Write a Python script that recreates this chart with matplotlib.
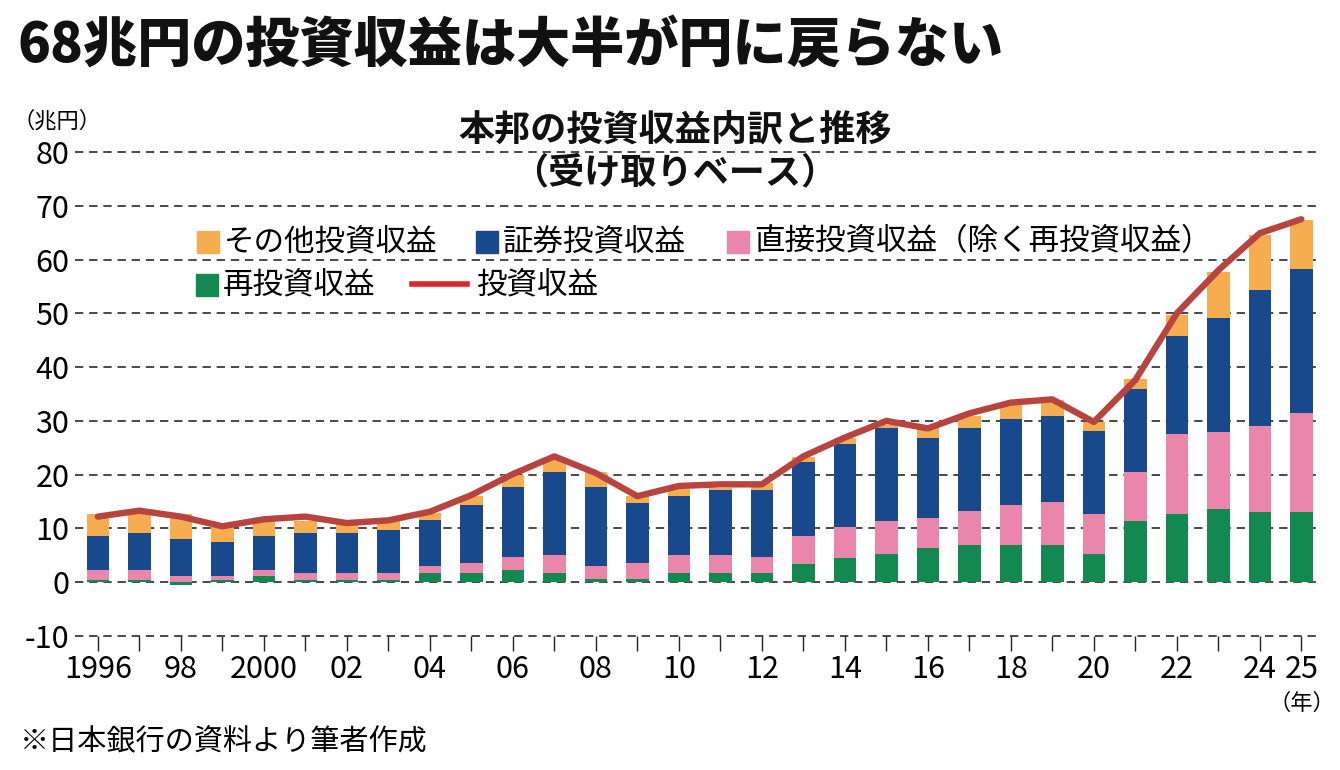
import numpy as np
import matplotlib.pyplot as plt
from matplotlib.patches import Rectangle
from matplotlib.lines import Line2D

plt.rcParams['font.family'] = ['Noto Sans CJK JP', 'DejaVu Sans']

W, H = 1340, 770

years = np.arange(1996, 2026)
# 再投資収益
reinvest = [0.5, 0.5, -0.5, 0.5, 1.2, 0.5, 0.5, 0.5, 1.7, 1.7,
            2.2, 1.7, 0.6, 0.6, 1.7, 1.7, 1.7, 3.4, 4.5, 5.2,
            6.3, 6.9, 6.9, 6.9, 5.2, 11.4, 12.6, 13.7, 13.1, 13.1]
# 直接投資収益（除く再投資収益）
direct = [1.8, 1.8, 1.2, 0.7, 1.1, 1.2, 1.2, 1.2, 1.3, 1.8,
          2.4, 3.45, 2.4, 2.9, 3.45, 3.45, 2.9, 5.2, 5.8, 6.2,
          5.7, 6.3, 7.4, 8.0, 7.45, 9.1, 14.9, 14.3, 16.0, 18.3]
# 証券投資収益
securities = [6.3, 6.9, 6.8, 6.25, 6.3, 7.5, 7.5, 8.0, 8.5, 10.8,
              13.1, 15.35, 14.7, 11.3, 10.95, 11.95, 12.5, 13.7, 15.4, 17.2,
              14.9, 15.4, 16.0, 16.0, 15.45, 15.5, 18.3, 21.2, 25.2, 26.8]
# その他投資収益
other = [4.1, 4.5, 4.7, 2.85, 2.8, 2.15, 1.7, 1.6, 1.4, 1.7,
         2.2, 2.2, 2.8, 1.2, 1.3, 0.5, 1.3, 1.0, 1.2, 0.6,
         1.7, 2.3, 2.6, 3.0, 1.7, 1.8, 3.9, 8.5, 10.3, 9.1]
# 投資収益（合計）
total = [12.2, 13.3, 12.2, 10.4, 11.7, 12.2, 11.0, 11.5, 13.1, 16.2,
         20.1, 23.4, 20.3, 16.0, 17.9, 18.2, 18.2, 23.4, 26.9, 30.0,
         28.6, 31.4, 33.4, 34.0, 29.8, 37.6, 50.0, 58.0, 64.9, 67.5]

xlabels = {1996: '1996', 1998: '98', 2000: '2000', 2002: '02', 2004: '04',
           2006: '06', 2008: '08', 2010: '10', 2012: '12', 2014: '14',
           2016: '16', 2018: '18', 2020: '20', 2022: '22', 2024: '24', 2025: '25'}

c_other = '#f6ad4f'
c_sec = '#18498c'
c_dir = '#e986a9'
c_re = '#138850'
c_line = '#b8443f'
c_leg_line = '#e0222b'


def px(x, y):
    return x / W, 1 - y / H


fig = plt.figure(figsize=(W / 100, H / 100), dpi=100)
ax = fig.add_axes([75 / W, (H - 636) / H, (1320 - 75) / W, (636 - 152) / H])

re = np.array(reinvest)
d = np.array(direct)
s = np.array(securities)
o = np.array(other)
pos_re = np.where(re > 0, re, 0)

bw = 0.54
ax.bar(years, re, bw, color=c_re, zorder=2)
ax.bar(years, d, bw, bottom=pos_re, color=c_dir, zorder=2)
ax.bar(years, s, bw, bottom=pos_re + d, color=c_sec, zorder=2)
ax.bar(years, o, bw, bottom=pos_re + d + s, color=c_other, zorder=2)
ax.plot(years, total, color=c_line, lw=4.6, solid_capstyle='round',
        solid_joinstyle='round', zorder=3)

yt = np.arange(-10, 81, 10)
ax.hlines(yt, 1995.45, 2025.45, colors='#2a2a2a', lw=1.2,
          linestyles=(0, (5, 3.5)), zorder=1, clip_on=False)

ax.set_xlim(1995.45, 2025.45)
ax.set_ylim(-10, 80)
ax.set_yticks(yt)
ax.set_yticklabels([str(v) for v in yt], fontsize=22)
ax.tick_params(axis='y', length=0, pad=4)
ax.set_xticks(years)
ax.set_xticklabels([xlabels.get(y, '') for y in years], fontsize=22)
ax.tick_params(axis='x', length=11, width=1, color='#222222', pad=2)
for sp in ax.spines.values():
    sp.set_visible(False)
ax.set_facecolor('none')

# titles
fig.text(*px(18, 45), '68兆円の投資収益は大半が円に戻らない', fontsize=39,
         fontweight='black', va='center', ha='left', color='#111111')
fig.text(*px(675, 130), '本邦の投資収益内訳と推移', fontsize=26,
         fontweight='bold', va='center', ha='center', color='#111111')
fig.text(*px(675, 173), '（受け取りベース）', fontsize=26,
         fontweight='bold', va='center', ha='center', color='#111111')
fig.text(*px(12, 121), '（兆円）', fontsize=16, va='center', ha='left')
fig.text(*px(1302, 703), '（年）', fontsize=16, va='center', ha='center')
fig.text(*px(20, 742), '※日本銀行の資料より筆者作成', fontsize=21,
         va='center', ha='left')

# legend
leg = [(197, 242, c_other, 'その他投資収益'),
       (476, 242, c_sec, '証券投資収益'),
       (727, 242, c_dir, '直接投資収益（除く再投資収益）'),
       (196, 285, c_re, '再投資収益')]
for x0, yc, col, lab in leg:
    fig.patches.append(Rectangle(px(x0, yc + 11), 22 / W, 22 / H, color=col,
                                 transform=fig.transFigure))
    fig.text(*px(x0 + 27, yc), lab, fontsize=22, va='center', ha='left')
fig.lines.append(Line2D([412 / W, 467 / W], [1 - 284 / H, 1 - 284 / H],
                        color=c_leg_line, lw=4, transform=fig.transFigure))
fig.text(*px(476, 285), '投資収益', fontsize=22, va='center', ha='left')

fig.savefig('out.png', dpi=100)
